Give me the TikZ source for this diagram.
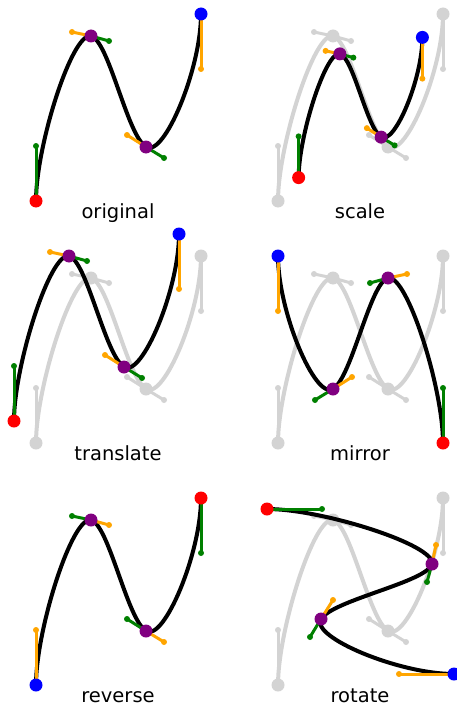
\documentclass[tikz,border=0pt]{standalone}
\usepackage{fontspec}
\setmainfont{DejaVu Sans}

\definecolor{cgray}{HTML}{D3D3D3}
\definecolor{corange}{HTML}{FFA500}
\definecolor{cgreen}{HTML}{008000}
\definecolor{cpurple}{HTML}{800080}

% points of the poly-bezier, in the current frame
\newcommand{\setpoints}[1]{%
  \coordinate (#1-s)  at (36,201);
  \coordinate (#1-s2) at (36,146);
  \coordinate (#1-a1) at (72,32);
  \coordinate (#1-a)  at (91,36);
  \coordinate (#1-a2) at (109,41);
  \coordinate (#1-b1) at (127,135);
  \coordinate (#1-b)  at (146,147);
  \coordinate (#1-b2) at (164,158);
  \coordinate (#1-e1) at (201,69);
  \coordinate (#1-e)  at (201,14);
}

% prefix, curve, start, knot, end, in-handle, out-handle
\newcommand{\drawcurve}[7]{%
  \draw[curve, #2] (#1-s) .. controls (#1-s2) and (#1-a1) .. (#1-a)
    .. controls (#1-a2) and (#1-b1) .. (#1-b)
    .. controls (#1-b2) and (#1-e1) .. (#1-e);
  \foreach \p/\q in {s/s2, a/a2, b/b2}
    \draw[handle, #7] (#1-\p) -- (#1-\q) node[tip, fill=#7] (#1-\q-tip) {};
  \foreach \p/\q in {a1/a, b1/b, e1/e}
    \draw[handle, #6] (#1-\q) -- (#1-\p) node[tip, fill=#6] (#1-\p-tip) {};
  \node[knot, fill=#3] (#1-start) at (#1-s) {};
  \node[knot, fill=#4] (#1-mida) at (#1-a) {};
  \node[knot, fill=#4] (#1-midb) at (#1-b) {};
  \node[knot, fill=#5] (#1-end) at (#1-e) {};
}
\newcommand{\graycurve}[1]{\drawcurve{#1}{cgray}{cgray}{cgray}{cgray}{cgray}{cgray}}
\newcommand{\colorcurve}[1]{\drawcurve{#1}{black}{red}{cpurple}{blue}{corange}{cgreen}}

\begin{document}
\begin{tikzpicture}[
    x=1pt, y=-1pt,
    curve/.style={line width=4pt},
    handle/.style={line width=3pt},
    knot/.style={circle, inner sep=0pt, minimum size=13pt},
    tip/.style={circle, inner sep=0pt, minimum size=6pt},
    paneltitle/.style={anchor=base, inner sep=0pt, font=\fontsize{19.5}{23}\selectfont}
]
\useasboundingbox (0,0) rectangle (456,706);

% original
\setpoints{org}
\colorcurve{org}
\node[paneltitle] (org-title) at (118,218) {original};

% scale
\begin{scope}[shift={(242,0)}]
  \setpoints{sc0}
  \begin{scope}[shift={(118.5,107.5)}, scale=0.75, shift={(-118.5,-107.5)}]
    \setpoints{sc}
  \end{scope}
  \graycurve{sc0}
  \colorcurve{sc}
  \node[paneltitle] (sc-title) at (118,218) {scale};
\end{scope}

% translate
\begin{scope}[shift={(0,242)}]
  \setpoints{tr0}
  \begin{scope}[shift={(-22,-22)}]
    \setpoints{tr}
  \end{scope}
  \graycurve{tr0}
  \colorcurve{tr}
  \node[paneltitle] (tr-title) at (118,218) {translate};
\end{scope}

% mirror
\begin{scope}[shift={(242,242)}]
  \setpoints{mi0}
  \begin{scope}[shift={(118.5,0)}, xscale=-1, shift={(-118.5,0)}]
    \setpoints{mi}
  \end{scope}
  \graycurve{mi0}
  \colorcurve{mi}
  \node[paneltitle] (mi-title) at (118,218) {mirror};
\end{scope}

% reverse
\begin{scope}[shift={(0,484)}]
  \setpoints{rv}
  \drawcurve{rv}{black}{blue}{cpurple}{red}{cgreen}{corange}
  \node[paneltitle] (rv-title) at (118,218) {reverse};
\end{scope}

% rotate
\begin{scope}[shift={(242,484)}]
  \setpoints{ro0}
  \begin{scope}[shift={(118.5,107.5)}, rotate=-90, shift={(-118.5,-107.5)}]
    \setpoints{ro}
  \end{scope}
  \graycurve{ro0}
  \colorcurve{ro}
  \node[paneltitle] (ro-title) at (118,218) {rotate};
\end{scope}

\end{tikzpicture}
\end{document}
